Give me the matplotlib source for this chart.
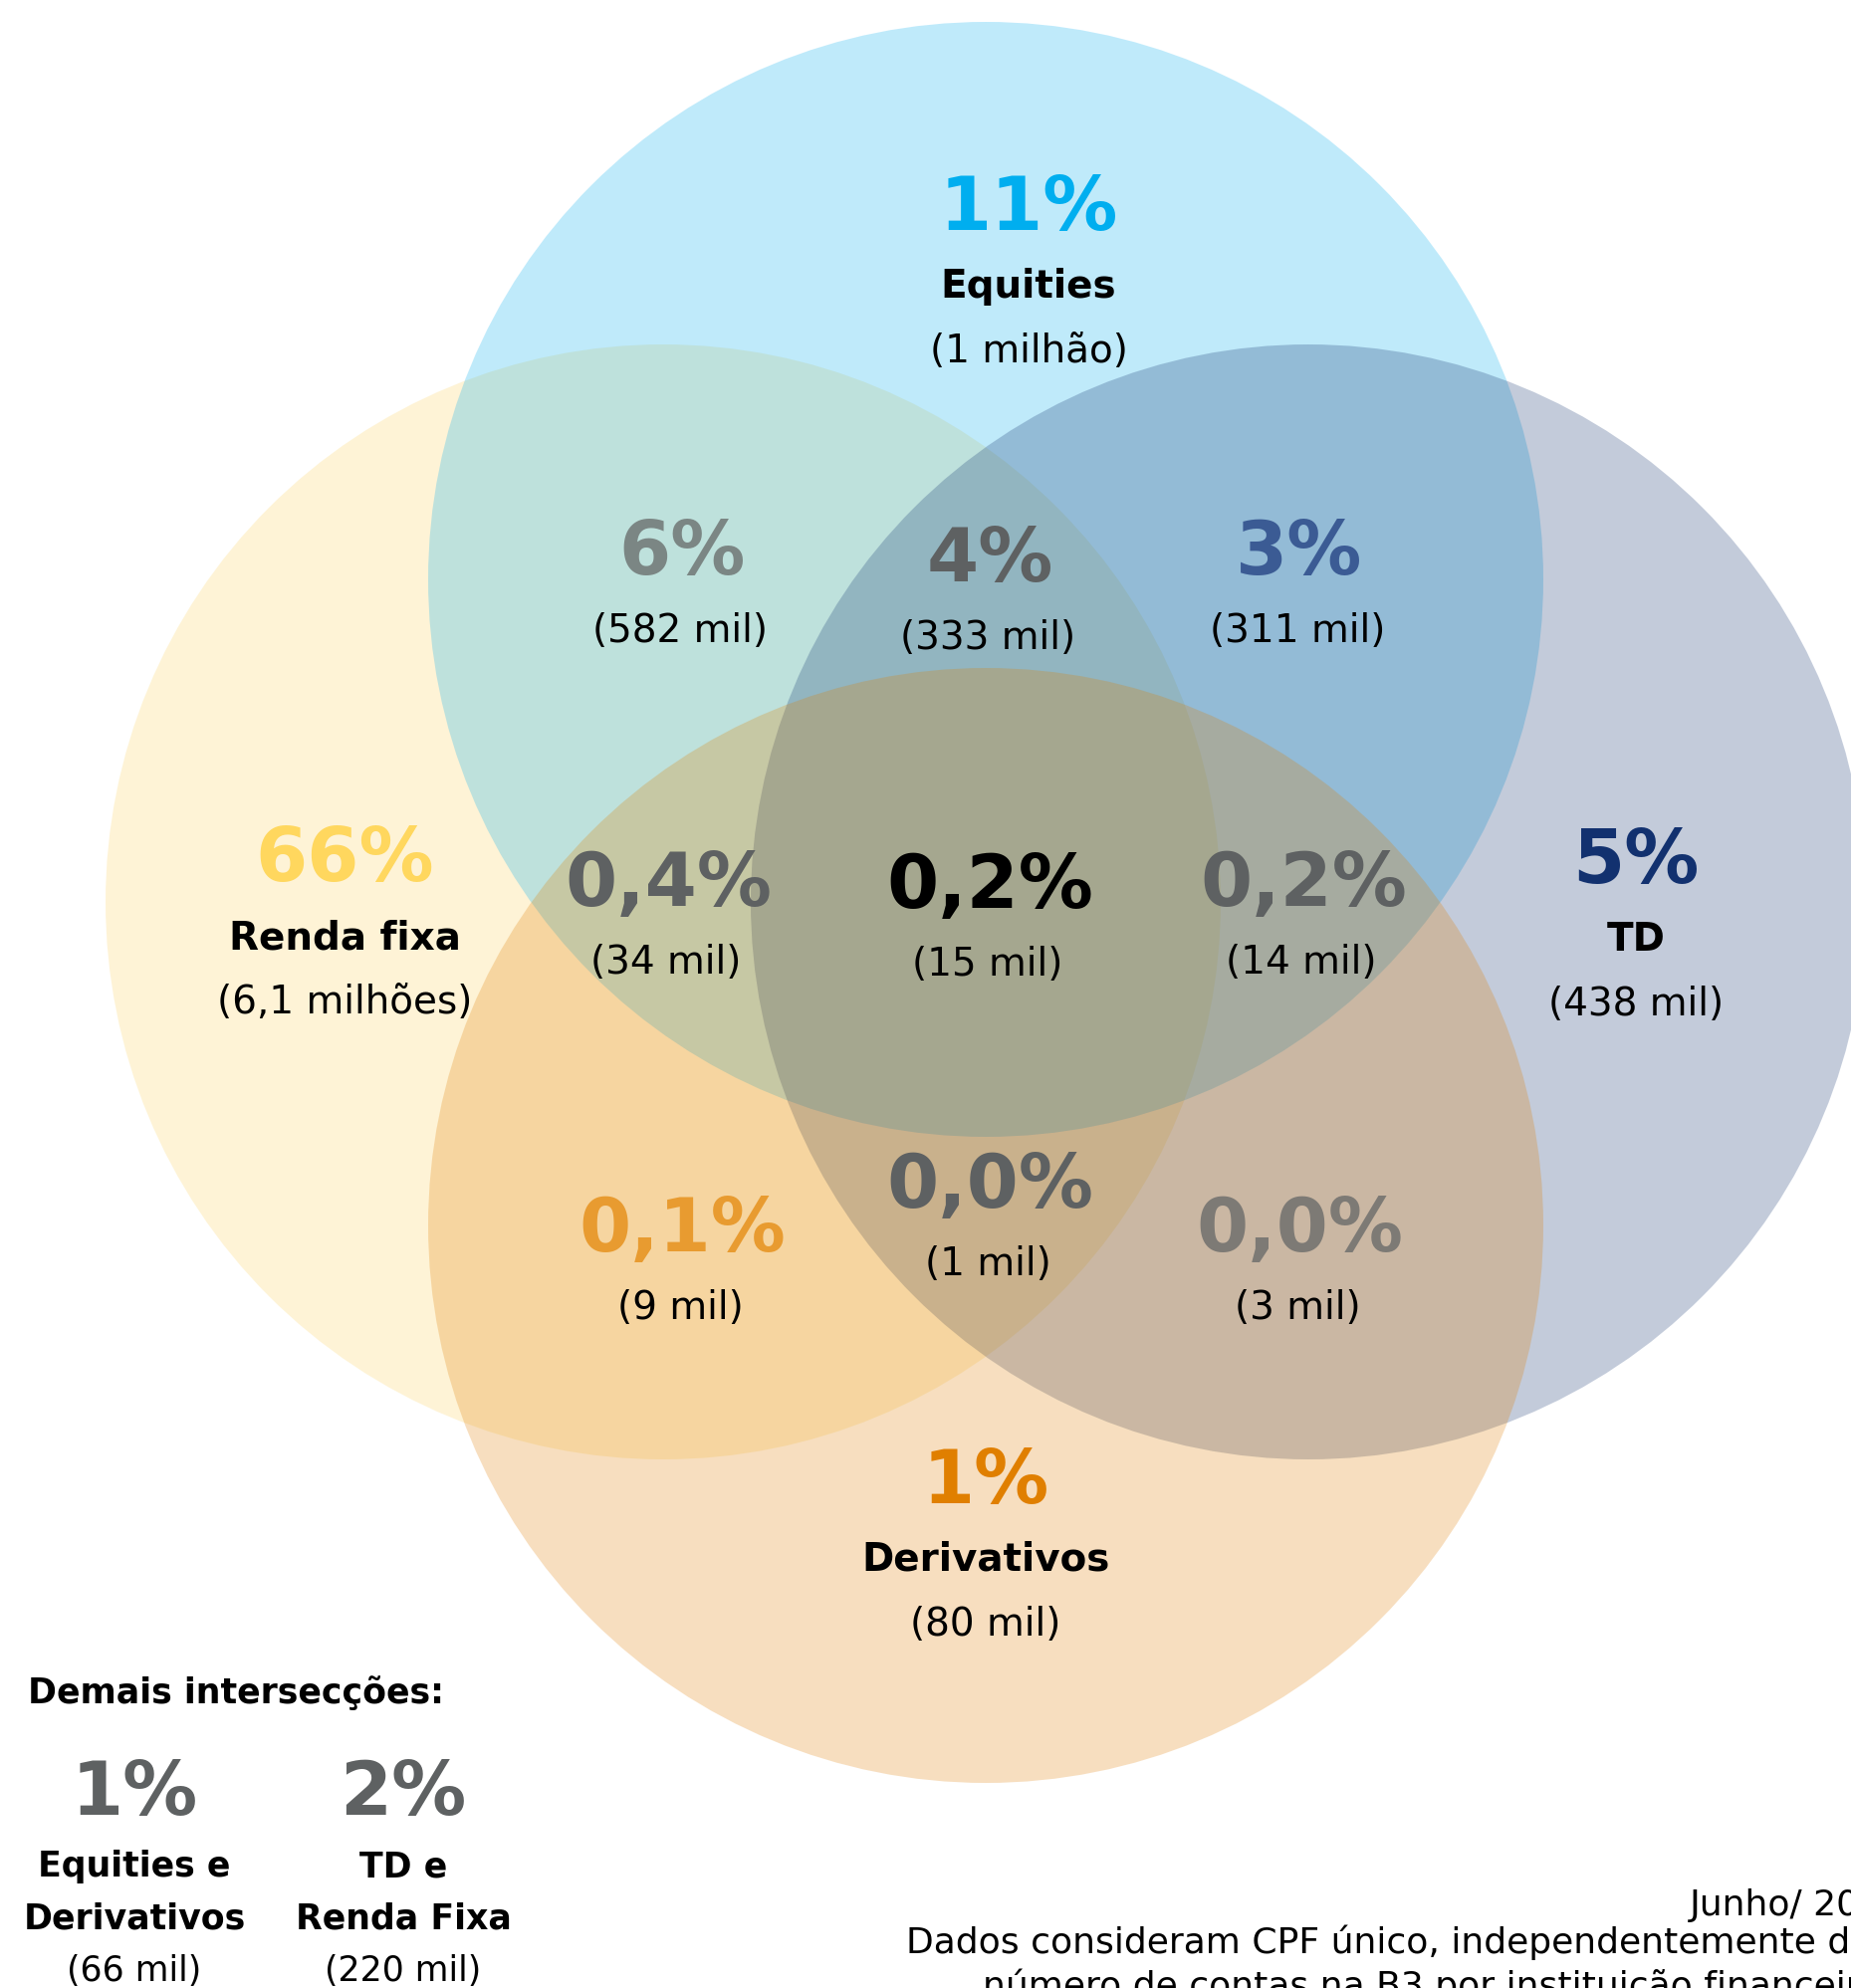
import matplotlib

matplotlib.use("Agg")
import matplotlib.pyplot as plt
from matplotlib.patches import Circle

plt.rcParams["font.family"] = ["DejaVu Sans"]

# --- data -------------------------------------------------------------
sets = ["Renda fixa", "Equities", "TD", "Derivativos"]
set_pct = ["66%", "11%", "5%", "1%"]
set_count = ["(6,1 milhões)", "(1 milhão)", "(438 mil)", "(80 mil)"]

inter_pct = ["6%", "4%", "3%", "0,4%", "0,2%", "0,2%", "0,1%", "0,0%", "0,0%"]
inter_count = ["(582 mil)", "(333 mil)", "(311 mil)", "(34 mil)", "(15 mil)",
               "(14 mil)", "(9 mil)", "(1 mil)", "(3 mil)"]

other_pct = ["1%", "2%"]
other_name = ["Equities e\nDerivativos", "TD e\nRenda Fixa"]
other_count = ["(66 mil)", "(220 mil)"]

note_date = "Junho/ 2023"
note_text = ["Dados consideram CPF único, independentemente do",
             "número de contas na B3 por instituição financeira."]

# --- layout / style ---------------------------------------------------
W, H = 1859, 1997
R = 560
centers = [(666, 906), (990, 582), (1314, 906), (990, 1231)]
fill = ["#FCD25F", "#00AEEF", "#12326E", "#E07F00"]
pct_col = ["#FFD75E", "#00AEEF", "#12316F", "#E07F00"]
set_xy = [(346, 885), (1033, 231), (1643, 887), (990, 1510)]

inter_xy = [(685, 577), (994, 584), (1305, 577),
            (671, 910), (994, 912), (1309, 910),
            (685, 1257), (994, 1213), (1305, 1257)]
inter_col = ["#7B8684", "#5E6162", "#3B5B94",
             "#5E6162", "#000000", "#5E6162",
             "#E89B30", "#5E6162", "#7D7A75"]

PCT = 54
LBL = 28
SMALL = 25

fig = plt.figure(figsize=(W / 100, H / 100), dpi=100)
ax = fig.add_axes([0, 0, 1, 1])
ax.set_xlim(0, W)
ax.set_ylim(H, 0)
ax.set_aspect("equal")
ax.axis("off")

for (cx, cy), c in zip(centers, fill):
    ax.add_patch(Circle((cx, cy), R, facecolor=c, edgecolor="none", alpha=0.25))

for (x, y), p, n, cnt, col in zip(set_xy, set_pct, sets, set_count, pct_col):
    ax.text(x, y, p, ha="center", va="baseline", fontsize=PCT,
            fontweight="bold", color=col)
    ax.text(x, y + 68, n, ha="center", va="baseline", fontsize=LBL,
            fontweight="bold", color="black")
    ax.text(x, y + 133, cnt, ha="center", va="baseline", fontsize=LBL,
            color="black")

for (x, y), p, cnt, col in zip(inter_xy, inter_pct, inter_count, inter_col):
    ax.text(x, y, p, ha="center", va="baseline", fontsize=PCT,
            fontweight="bold", color=col)
    ax.text(x - 2, y + 68, cnt, ha="center", va="baseline", fontsize=LBL,
            color="black")

# other intersections
ax.text(28, 1711, "Demais intersecções:", ha="left", va="baseline",
        fontsize=SMALL, fontweight="bold", color="black")
for x, p, n, cnt in zip([135, 405], other_pct, other_name, other_count):
    ax.text(x, 1823, p, ha="center", va="baseline", fontsize=PCT,
            fontweight="bold", color="#5E6162")
    l1, l2 = n.split("\n")
    ax.text(x, 1885, l1, ha="center", va="baseline", fontsize=SMALL,
            fontweight="bold", color="black")
    ax.text(x, 1938, l2, ha="center", va="baseline", fontsize=SMALL,
            fontweight="bold", color="black")
    ax.text(x, 1990, cnt, ha="center", va="baseline", fontsize=SMALL,
            color="black")

# footnote (runs off the right edge like the source)
note_font = ["Liberation Sans Narrow", "DejaVu Sans"]
ax.text(1697, 1924, note_date, ha="left", va="baseline", fontsize=26,
        family=note_font, color="black")
ax.text(910, 1962, note_text[0], ha="left", va="baseline", fontsize=26,
        family=note_font, color="black")
ax.text(987, 2006, note_text[1], ha="left", va="baseline", fontsize=26,
        family=note_font, color="black")

fig.savefig("out.png", dpi=100)
